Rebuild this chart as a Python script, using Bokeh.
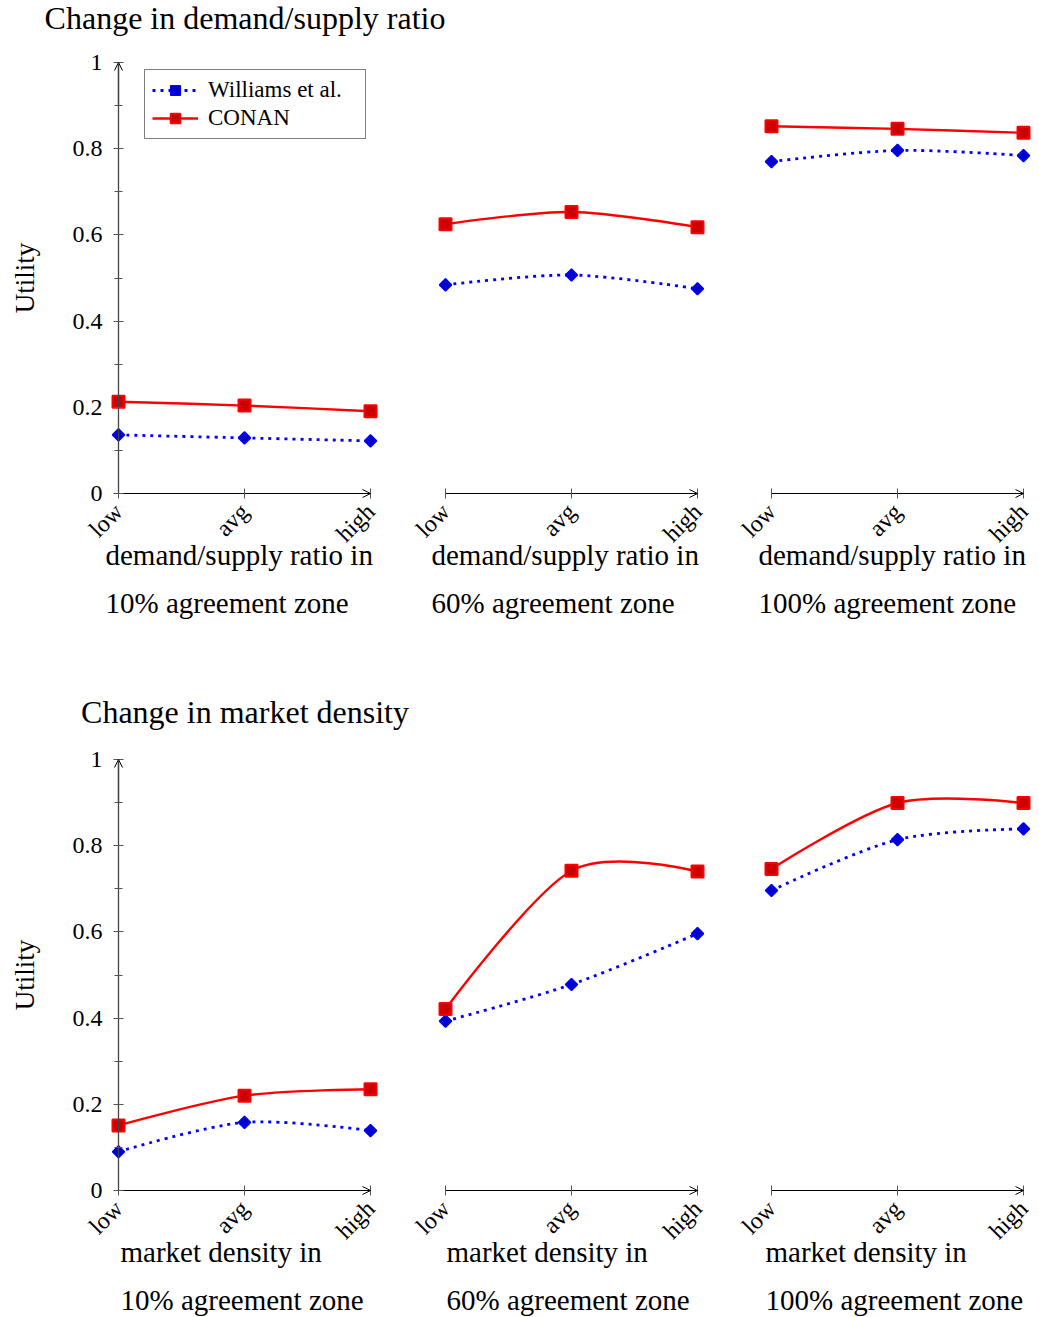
import math
from bokeh.plotting import figure
from bokeh.models import (Range1d, LinearAxis, FixedTicker, NumeralTickFormatter,
                          ColumnDataSource, Arrow, OpenHead, Label, Legend, LegendItem)
from bokeh.layouts import column, row
from bokeh.embed import file_html
from bokeh.resources import INLINE

# ---------------- data ----------------
cats = ["low", "avg", "high"]
y_ticks = [0, 0.2, 0.4, 0.6, 0.8, 1]
y_minor = [0.1, 0.3, 0.5, 0.7, 0.9]
series_names = ["Williams et al.", "CONAN"]

row_titles = ["Change in demand/supply ratio", "Change in market density"]
row_xlabels = ["demand/supply ratio in", "market density in"]
zones = ["10% agreement zone", "60% agreement zone", "100% agreement zone"]

# Change in demand/supply ratio (panels: 10%, 60%, 100%)
ds_williams_10 = [0.136, 0.129, 0.122]
ds_williams_60 = [0.484, 0.507, 0.475]
ds_williams_100 = [0.770, 0.796, 0.784]
ds_conan_10 = [0.213, 0.204, 0.191]
ds_conan_60 = [0.625, 0.653, 0.618]
ds_conan_100 = [0.852, 0.846, 0.837]

# Change in market density
md_williams_10 = [0.090, 0.158, 0.139]
md_williams_60 = [0.393, 0.478, 0.596]
md_williams_100 = [0.696, 0.814, 0.839]
md_conan_10 = [0.151, 0.220, 0.235]
md_conan_60 = [0.421, 0.742, 0.740]
md_conan_100 = [0.746, 0.899, 0.899]

# ---------------- style / layout (pixels) ----------------
SERIF = "Liberation Serif"
PX_X = 126.0                       # px per category step
PX_Y = 431.0                       # px per utility unit
CANVAS_X = [(0, 400), (400, 719), (719, 1039)]
LOW_PX = [118, 445, 771]
ROWS = [dict(top=44, bottom=650, y1=62, y0=493), dict(top=735, bottom=1317, y1=759, y0=1190)]
TITLES = [dict(h=44, mid=17), dict(h=85, mid=61)]
LABEL_DX = [[-13, -14, -13], [2, 1, -6]]  # text left edge relative to "low", px
LABEL_MID = [61, 109]                       # text middles below the x axis, px
TENSION = 0.1526                            # pgf "smooth" tension (0.55 * 0.2775)
BLUE, BLUE_FILL = "#0000ff", "#0000cc"
RED, RED_FILL = "#ff0000", "#cc0000"
EPS = 1e-3

xs = list(range(len(cats)))


def smooth_segments(vals):
    """Bezier segments through the data points (pgf-like 'smooth')."""
    n = len(xs)
    d = {k: [] for k in ("x0", "y0", "x1", "y1", "cx0", "cy0", "cx1", "cy1")}
    for i in range(n - 1):
        d["x0"].append(xs[i]); d["y0"].append(vals[i])
        d["x1"].append(xs[i + 1]); d["y1"].append(vals[i + 1])
        if i == 0:
            d["cx0"].append(xs[i]); d["cy0"].append(vals[i])
        else:
            d["cx0"].append(xs[i] + TENSION * (xs[i + 1] - xs[i - 1]))
            d["cy0"].append(vals[i] + TENSION * (vals[i + 1] - vals[i - 1]))
        if i + 1 == n - 1:
            d["cx1"].append(xs[i + 1]); d["cy1"].append(vals[i + 1])
        else:
            d["cx1"].append(xs[i + 1] - TENSION * (xs[i + 2] - xs[i]))
            d["cy1"].append(vals[i + 1] - TENSION * (vals[i + 2] - vals[i]))
    return ColumnDataSource(d)


def make_title(text, spec):
    h = spec["h"]
    t = figure(width=1039, height=h, x_range=Range1d(0, 1039), y_range=Range1d(0, h),
               min_border=0, x_axis_location=None, y_axis_location=None,
               toolbar_location=None, output_backend="svg", outline_line_color=None)
    t.xgrid.grid_line_color = None
    t.ygrid.grid_line_color = None
    t.add_layout(Label(x=244.5, y=h - spec["mid"], text=text, text_align="center",
                       text_baseline="middle", text_font=SERIF,
                       text_font_size="32px", text_color="black"))
    return t


def make_panel(k, r, williams, conan):
    rs = ROWS[r]
    cx0, cx1 = CANVAS_X[k]
    low = LOW_PX[k]
    x_lo = -(low - cx0) / PX_X
    x_hi = (len(cats) - 1) + (cx1 - (low + (len(cats) - 1) * PX_X)) / PX_X
    y_lo = -(rs["bottom"] - rs["y0"]) / PX_Y
    y_hi = 1 + (rs["y1"] - rs["top"]) / PX_Y
    p = figure(x_range=Range1d(x_lo, x_hi), y_range=Range1d(y_lo, y_hi),
               width=cx1 - cx0, height=rs["bottom"] - rs["top"], min_border=0,
               x_axis_location=None, y_axis_location=None, toolbar_location=None,
               output_backend="svg", outline_line_color=None)
    p.xgrid.grid_line_color = None
    p.ygrid.grid_line_color = None

    xa = LinearAxis(fixed_location=0, bounds=(xs[0] - EPS, xs[-1] + EPS),
                    ticker=FixedTicker(ticks=xs, minor_ticks=[]),
                    major_label_overrides={x: c for x, c in zip(xs, cats)},
                    axis_line_color="black", axis_line_width=1,
                    major_tick_in=5, major_tick_out=5, major_tick_line_color="#555555",
                    major_label_orientation=math.pi / 4, major_label_standoff=9,
                    major_label_text_font=SERIF, major_label_text_font_size="24px",
                    major_label_text_color="black")
    p.add_layout(xa, "below")
    p.add_layout(Arrow(end=OpenHead(size=8, line_width=1, line_color="black"),
                       x_start=xs[-1] - 0.5, y_start=0, x_end=xs[-1], y_end=0,
                       line_width=1, line_color="black"))

    if k == 0:
        ya = LinearAxis(fixed_location=xs[0], bounds=(y_ticks[0] - EPS, y_ticks[-1] + EPS),
                        ticker=FixedTicker(ticks=y_ticks, minor_ticks=y_minor),
                        formatter=NumeralTickFormatter(format="0.[0]"),
                        axis_line_color="#444444", axis_line_width=1.3,
                        major_tick_in=5, major_tick_out=5, minor_tick_in=4, minor_tick_out=4,
                        major_tick_line_color="#555555", minor_tick_line_color="#555555",
                        major_label_standoff=11, major_label_text_font=SERIF,
                        major_label_text_font_size="24px", major_label_text_color="black")
        p.add_layout(ya, "left")
        p.add_layout(Arrow(end=OpenHead(size=8, line_width=1, line_color="black"),
                           x_start=xs[0], y_start=0.9, x_end=xs[0], y_end=1,
                           line_width=1.3, line_color="#444444"))
        p.add_layout(Label(x=(24 - low) / PX_X, y=0.5, angle=math.pi / 2,
                           text="Utility", text_align="center", text_baseline="middle",
                           text_font=SERIF, text_font_size="27px", text_color="black"))

    wb = p.bezier(x0="x0", y0="y0", x1="x1", y1="y1", cx0="cx0", cy0="cy0", cx1="cx1",
                  cy1="cy1", source=smooth_segments(williams), line_color=BLUE,
                  line_width=2.8, line_dash="3 5")
    ws = p.scatter(x=xs, y=williams, marker="square", angle=math.pi / 4, size=8.5,
                   fill_color=BLUE_FILL, line_color=BLUE, line_width=1.6)
    cb = p.bezier(x0="x0", y0="y0", x1="x1", y1="y1", cx0="cx0", cy0="cy0", cx1="cx1",
                  cy1="cy1", source=smooth_segments(conan), line_color=RED, line_width=2.4)
    cs = p.scatter(x=xs, y=conan, marker="square", size=12, fill_color=RED_FILL,
                   line_color=RED, line_width=2)

    if k == 0 and r == 0:
        legend = Legend(items=[LegendItem(label=series_names[0], renderers=[wb, ws]),
                               LegendItem(label=series_names[1], renderers=[cb, cs])],
                        location=(144, rs["bottom"] - 139), margin=0, padding=7, spacing=2,
                        glyph_width=46, glyph_height=24, label_height=24, label_width=150,
                        label_standoff=10, label_text_font=SERIF, label_text_font_size="23px",
                        label_text_color="black", border_line_color="black",
                        border_line_width=1, background_fill_color="white",
                        background_fill_alpha=1)
        p.add_layout(legend)

    lx = LABEL_DX[r][k] / PX_X
    p.add_layout(Label(x=lx, y=-LABEL_MID[0] / PX_Y,
                       text=row_xlabels[r], text_align="left", text_baseline="middle",
                       text_font=SERIF, text_font_size="29px", text_color="black"))
    p.add_layout(Label(x=lx, y=-LABEL_MID[1] / PX_Y,
                       text=zones[k], text_align="left", text_baseline="middle",
                       text_font=SERIF, text_font_size="29px", text_color="black"))
    return p


t1 = make_title(row_titles[0], TITLES[0])
r1 = row(make_panel(0, 0, ds_williams_10, ds_conan_10),
         make_panel(1, 0, ds_williams_60, ds_conan_60),
         make_panel(2, 0, ds_williams_100, ds_conan_100))
t2 = make_title(row_titles[1], TITLES[1])
r2 = row(make_panel(0, 1, md_williams_10, md_conan_10),
         make_panel(1, 1, md_williams_60, md_conan_60),
         make_panel(2, 1, md_williams_100, md_conan_100))

layout = column(t1, r1, t2, r2)
open("out.html", "w").write(file_html(layout, INLINE))
